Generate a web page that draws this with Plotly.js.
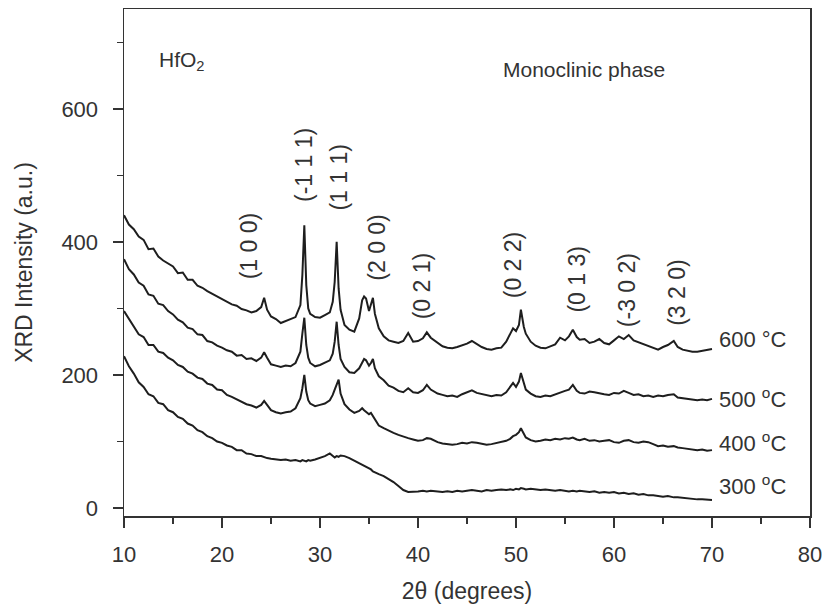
<!DOCTYPE html>
<html>
<head>
<meta charset="utf-8">
<script src="https://cdn.plot.ly/plotly-3.0.1.min.js"></script>
<style>html,body{margin:0;padding:0;background:#fff;}#chart{width:828px;height:605px;}</style>
</head>
<body>
<div id="chart"></div>
<script>
// 2θ grid (degrees)
const twoTheta = [
  10,10.5,11,11.5,12,12.5,13,13.5,14,14.5,15,15.5,16,16.5,17,17.5,18,18.5,19,19.5,20,20.5,21,21.5,22,22.5,23,23.5,24,
  24.3,24.6,25,25.5,26,26.5,27,27.5,28,
  28.2,28.4,28.6,28.8,29,29.5,30,30.5,31,
  31.3,31.5,31.7,31.9,32.1,32.5,33,33.5,34,
  34.3,34.5,34.7,35,35.2,35.4,35.6,
  36,36.5,37,37.5,38,38.5,39,39.5,40,40.5,40.9,41.3,
  42,42.5,43,43.5,44,44.5,45,45.5,46,46.5,47,47.5,48,48.5,49,
  49.4,49.7,50,50.3,50.5,50.8,51,
  51.5,52,52.5,53,53.5,54,54.5,55,55.4,55.8,56.2,
  56.5,57,57.5,58,58.5,59,59.5,60,60.5,61,61.5,62,62.5,63,63.5,64,64.5,65,65.5,
  66.1,66.5,67,67.5,68,68.5,69,69.5,70
];

const i600 = [
  440,426,419,408,403,389,390,378,372,367,363,353,354,343,343,334,331,326,322,317,313,309,306,304,299,297,294,296,302,
  316,298,288,284,278,281,283,287,305,
  350,425,335,300,292,287,286,290,294,
  310,340,400,330,298,275,268,265,285,
  312,318,315,296,305,316,292,
  270,258,252,250,248,251,263,250,251,255,264,256,
  248,243,241,240,242,244,247,251,246,242,239,238,240,241,250,
  262,270,266,275,298,272,262,
  250,244,241,240,243,246,256,252,258,268,257,
  253,254,248,250,254,248,246,252,258,254,260,252,249,246,243,241,238,242,245,
  251,242,238,236,235,235,236,237,239
];

const i500 = [
  374,359,351,339,334,321,319,307,305,296,291,283,279,271,269,261,260,251,249,244,241,237,235,229,230,224,225,221,226,
  234,226,216,214,212,214,213,218,235,
  262,286,245,226,218,213,215,218,222,
  232,250,280,245,224,212,204,203,210,
  220,224,222,214,218,224,210,
  198,192,184,181,176,174,180,174,173,177,185,178,
  172,170,168,169,167,171,174,177,173,171,169,168,170,169,174,
  182,188,182,190,203,186,178,
  172,168,167,169,168,171,173,176,178,185,176,
  173,172,175,174,172,171,170,173,172,176,173,170,171,168,169,167,169,168,170,
  171,166,165,164,163,162,163,162,164
];

const i400 = [
  296,284,273,261,257,245,245,235,233,226,222,215,212,205,202,196,194,187,185,178,177,170,167,163,160,156,154,151,155,
  161,155,147,144,142,144,145,150,165,
  180,200,175,162,157,153,155,157,162,
  170,178,187,193,172,156,148,143,146,
  150,147,145,141,143,138,133,
  124,120,116,113,110,107,105,103,101,102,105,104,
  99,97,96,95,96,98,97,99,98,97,95,96,98,99,101,
  104,108,110,114,120,110,106,
  102,100,101,103,102,104,103,105,104,106,103,
  102,104,101,102,100,101,102,99,98,101,102,99,98,100,99,96,93,94,92,
  93,91,90,89,88,87,88,86,87
];

const i300 = [
  228,213,202,189,182,171,168,158,156,147,144,137,134,127,124,117,114,108,105,100,98,94,92,87,87,82,81,78,78,
  76,75,74,73,72,73,71,72,70,
  72,71,70,72,71,73,75,78,82,
  78,76,78,77,79,78,75,71,67,
  65,63,62,60,58,55,54,
  51,48,44,39,33,27,24,24,25,26,25,26,
  25,24,25,24,26,25,26,27,26,25,27,26,27,28,27,
  28,27,29,28,30,29,28,
  29,28,27,28,27,26,27,26,25,26,25,
  26,25,24,25,23,24,23,24,22,23,21,22,20,21,19,19,18,17,18,
  16,16,15,15,14,13,13,12,12
];

const seriesNames = ["300 °C", "400 °C", "500 °C", "600 °C"];
const tempLabels = ["300 <sup>o</sup>C", "400 <sup>o</sup>C", "500 <sup>o</sup>C", "600 °C"];
const hklLabels = ["(1 0 0)", "(-1 1 1)", "(1 1 1)", "(2 0 0)", "(0 2 1)", "(0 2 2)", "(0 1 3)", "(-3 0 2)", "(3 2 0)"];
const xTicks = [10, 20, 30, 40, 50, 60, 70, 80];
const yTicks = [0, 200, 400, 600];

const allSeries = [i300, i400, i500, i600];
const lineColor = "#1e1e1e";
const textColor = "#333333";
const fontFam = "Liberation Sans, Arial, Helvetica, sans-serif";

const traces = allSeries.map((ys, k) => ({
  type: "scatter", mode: "lines", name: seriesNames[k],
  x: twoTheta, y: ys,
  line: {color: lineColor, width: 2},
  hoverinfo: "x+y+name"
}));

// label placements (data coordinates)
const tempPos = [[70.5, 35], [70.5, 99], [70.5, 165], [70.5, 253]];
const hklPos = [[22.7, 394], [28.3, 516], [31.9, 496], [35.8, 391], [40.5, 333], [49.7, 365], [56.2, 343], [61.4, 327], [66.4, 323]];

const annotations = [];
tempLabels.forEach((t, k) => annotations.push({
  x: tempPos[k][0], y: tempPos[k][1], xref: "x", yref: "y", text: t,
  showarrow: false, xanchor: "left", yanchor: "middle",
  font: {family: fontFam, size: 22, color: textColor}
}));
hklLabels.forEach((t, k) => annotations.push({
  x: hklPos[k][0], y: hklPos[k][1], xref: "x", yref: "y", text: t,
  showarrow: false, textangle: -90, xanchor: "center", yanchor: "middle",
  font: {family: fontFam, size: 23, color: textColor}
}));
annotations.push({
  x: 13.4, y: 672, xref: "x", yref: "y", text: "HfO<sub>2</sub>",
  showarrow: false, xanchor: "left", yanchor: "middle",
  font: {family: fontFam, size: 21, color: textColor}
});
annotations.push({
  x: 48.5, y: 659, xref: "x", yref: "y", text: "Monoclinic phase",
  showarrow: false, xanchor: "left", yanchor: "middle",
  font: {family: fontFam, size: 21, color: textColor}
});

const layout = {
  width: 828, height: 605,
  margin: {l: 124, r: 18, t: 9, b: 89, pad: 0},
  paper_bgcolor: "#ffffff", plot_bgcolor: "#ffffff",
  showlegend: false,
  font: {family: fontFam, size: 22, color: textColor},
  xaxis: {
    range: [10, 80], tickvals: xTicks, ticktext: xTicks.map(String),
    ticks: "outside", ticklen: 10, tickwidth: 1.5, tickcolor: "#333",
    minor: {dtick: 5, tick0: 0, ticks: "outside", ticklen: 6, tickwidth: 1.5, tickcolor: "#333"},
    showline: true, linecolor: "#333", linewidth: 1.5, mirror: true,
    showgrid: false, zeroline: false,
    ticklabelstandoff: 8,
    tickfont: {family: fontFam, size: 22, color: textColor},
    title: {text: "2θ (degrees)", standoff: 17, font: {family: fontFam, size: 23, color: textColor}}
  },
  yaxis: {
    range: [-12, 750], tickvals: yTicks, ticktext: yTicks.map(String),
    ticks: "outside", ticklen: 10, tickwidth: 1.5, tickcolor: "#333",
    minor: {dtick: 100, tick0: 0, ticks: "outside", ticklen: 6, tickwidth: 1.5, tickcolor: "#333"},
    showline: true, linecolor: "#333", linewidth: 1.5, mirror: true,
    showgrid: false, zeroline: false,
    ticklabelstandoff: 10,
    tickfont: {family: fontFam, size: 22, color: textColor},
    title: {text: "XRD Intensity (a.u.)", standoff: 22, font: {family: fontFam, size: 23, color: textColor}}
  },
  annotations: annotations
};

Plotly.newPlot("chart", traces, layout, {displayModeBar: false, staticPlot: true});
</script>
</body>
</html>
